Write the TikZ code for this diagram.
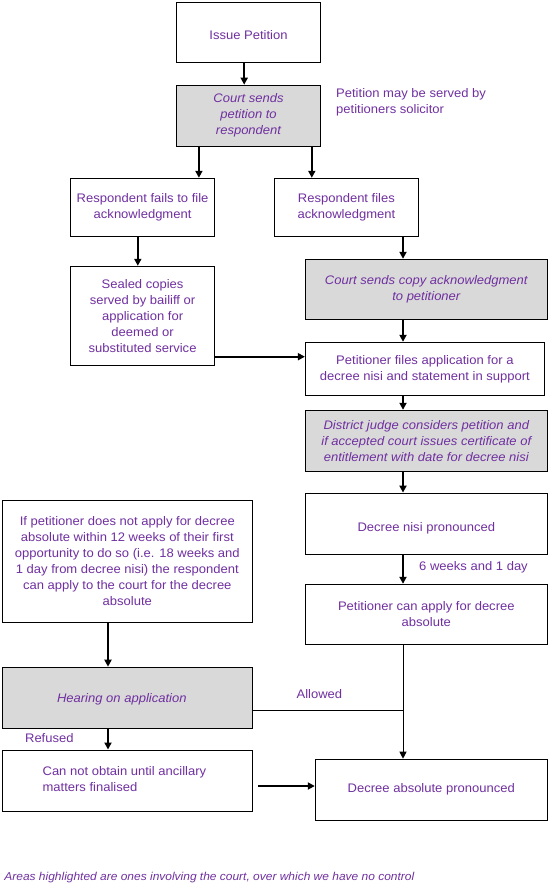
\documentclass[tikz,border=0pt]{standalone}
\usepackage{fontspec}
\setmainfont{Liberation Sans}[FakeStretch=1.05]
\usetikzlibrary{arrows.meta}
\definecolor{txt}{HTML}{7030A0}
\definecolor{courtgray}{HTML}{D9D9D9}
\newcommand{\lowertext}[2]{\raisebox{-#1}[\height][\depth]{#2}}
\begin{document}
\begin{tikzpicture}[x=1pt,y=-1pt,
  box/.style={draw=black,line width=1pt,fill=white,inner sep=0pt,align=center,text=txt,font=\fontsize{12.4}{16}\selectfont},
  court/.style={box,fill=courtgray,font=\fontsize{12.4}{16}\selectfont\itshape},
  arr/.style={line width=2pt,-{Triangle[length=7pt,width=7pt]}},
  thinline/.style={line width=1pt},
  thinarr/.style={line width=1pt,-{Triangle[length=7pt,width=7pt]}},
  lbl/.style={text=txt,font=\fontsize{12.4}{16}\selectfont,inner sep=0pt,anchor=west,align=left}]
\useasboundingbox (0,0) rectangle (550,896);

% boxes
\node[box,minimum width=144pt,minimum height=60pt] (issue) at (248.5,32.3) {\lowertext{3pt}{Issue Petition}};
\node[court,minimum width=144pt,minimum height=61pt] (court1) at (248.5,115.7) {Court sends\\petition to\\respondent};
\node[box,minimum width=144pt,minimum height=58pt] (fails) at (142.6,207.3) {Respondent fails to file\\acknowledgment};
\node[box,minimum width=144pt,minimum height=58pt] (files) at (346.4,207.3) {Respondent files\\acknowledgment};
\node[box,minimum width=144pt,minimum height=99pt] (sealed) at (142.6,315.8) {Sealed copies\\served by bailiff or\\application for\\deemed or\\substituted service};
\node[court,minimum width=242pt,minimum height=60pt] (copyack) at (426.3,289.3) {Court sends copy acknowledgment\\to petitioner};
\node[box,minimum width=239pt,minimum height=53pt] (pfa) at (424.9,368.8) {Petitioner files application for a\\decree nisi and statement in support};
\node[court,minimum width=242pt,minimum height=61pt] (judge) at (426.3,440.8) {District judge considers petition and\\if accepted court issues certificate of\\entitlement with date for decree nisi};
\node[box,minimum width=242pt,minimum height=61pt] (nisi) at (426.3,523.6) {\lowertext{5pt}{Decree nisi pronounced}};
\node[box,minimum width=242pt,minimum height=60pt] (canapply) at (426.3,614.3) {Petitioner can apply for decree\\absolute};
\node[box,minimum width=250pt,minimum height=122pt] (ifpet) at (127.3,561.2) {If petitioner does not apply for decree\\absolute within 12 weeks of their first\\opportunity to do so (i.e. 18 weeks and\\1 day from decree nisi) the respondent\\can apply to the court for the decree\\absolute};
\node[court,minimum width=250pt,minimum height=61pt] (hearing) at (127.3,697.7) {\lowertext{2pt}{Hearing on application}\hspace*{11pt}};
\node[box,minimum width=250pt,minimum height=61pt] (cannot) at (127.3,780.5) {};
\node[lbl] (cannottxt) at (42.4,779.5) {Can not obtain until ancillary\\matters finalised};
\node[box,minimum width=232pt,minimum height=61pt] (dap) at (431.3,789.7) {Decree absolute pronounced};

% labels
\node[lbl] (note) at (336,102) {Petition may be served by\\petitioners solicitor};
\node[lbl] (weeks) at (419,567) {6 weeks and 1 day};
\node[lbl] (allowed) at (296.4,694) {Allowed};
\node[lbl] (refused) at (24.9,738) {Refused};
\node[lbl,font=\fontsize{11.4}{14}\selectfont\itshape] (footer) at (4.2,878) {Areas highlighted are ones involving the court, over which we have no control};

% helper coordinates
\coordinate (xe) at (244.2,0);
\coordinate (xa) at (198.9,0);
\coordinate (xb) at (311.8,0);
\coordinate (xc) at (137.8,0);
\coordinate (xd) at (403,0);
\coordinate (xf) at (108,0);
\coordinate (ys) at (0,356.7);
\coordinate (ya) at (0,710);
\coordinate (cnstart) at (258,786);

% connectors
\draw[arr] (issue.south -| xe) -- (court1.north -| xe);
\draw[arr] (court1.south -| xa) -- (fails.north -| xa);
\draw[arr] (court1.south -| xb) -- (files.north -| xb);
\draw[arr] (fails.south -| xc) -- (sealed.north -| xc);
\draw[arr] (files.south -| xd) -- (copyack.north -| xd);
\draw[arr] (copyack.south -| xd) -- (pfa.north -| xd);
\draw[arr] (sealed.east |- ys) -- (pfa.west |- ys);
\draw[arr] (pfa.south -| xd) -- (judge.north -| xd);
\draw[arr] (judge.south -| xd) -- (nisi.north -| xd);
\draw[arr] (nisi.south -| xd) -- (canapply.north -| xd);
\draw[arr] (ifpet.south -| xf) -- (hearing.north -| xf);
\draw[arr] (hearing.south -| xf) -- (cannot.north -| xf);
\draw[thinarr] (canapply.south -| xd) -- (dap.north -| xd);
\draw[thinline] (hearing.east |- ya) -- (ya -| xd);
\draw[arr] (cnstart) -- (cnstart -| dap.west);
\end{tikzpicture}
\end{document}
